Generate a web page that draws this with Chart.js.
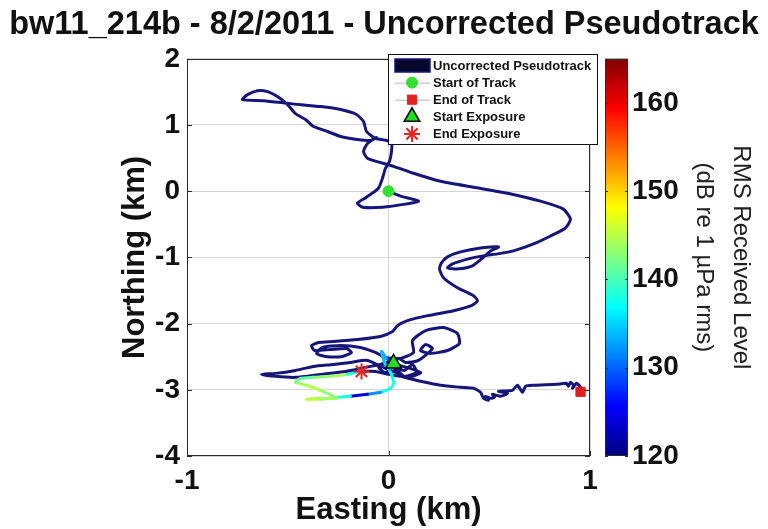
<!DOCTYPE html>
<html><head><meta charset="utf-8">
<script src="https://cdn.jsdelivr.net/npm/chart.js@4.4.1/dist/chart.umd.min.js"></script>
<style>html,body{margin:0;padding:0;background:#fff;}#wrap{width:768px;height:529px;position:relative;}</style>
</head><body><div id="wrap"><canvas id="c" width="768" height="529"></canvas></div>
<script>
// ---------- data (km, dB) ----------
const chartTitle = 'bw11_214b - 8/2/2011 - Uncorrected Pseudotrack';
const xTicks = [-1, 0, 1];
const yTicks = [-4, -3, -2, -1, 0, 1, 2];
const levelTicks = [120, 130, 140, 150, 160];
const levelMin = 120, levelMax = 165;

// track before exposure
const preEasting = [0.000,0.060,0.149,0.084,-0.030,-0.129,-0.154,-0.109,-0.050,-0.030,-0.015,0.005,0.015,0.015,-0.010,-0.065,
 -0.109,-0.124,-0.159,-0.238,-0.337,-0.486,-0.620,-0.725,-0.700,-0.650,-0.600,-0.551,-0.501,-0.462,-0.412,-0.372,-0.303,-0.238,-0.154,-0.089,-0.060,
 -0.104,-0.124,-0.104,0.025,0.124,0.258,0.422,0.591,0.754,0.868,0.903,0.878,0.804,0.720,0.620,0.541,0.471,0.397,0.318,0.293,0.347,0.417,0.462,0.506,0.546,
 0.457,0.357,0.293,0.263,0.253,0.273,0.342,0.422,0.442,0.412,0.323,0.194,0.094,0.045,0.020,-0.040,-0.154,-0.273,-0.347,
 -0.382,-0.367,-0.288,-0.208,-0.184,-0.228,-0.313,-0.357,-0.328,-0.238,-0.139,-0.065,-0.015,
 0.060,0.124,0.119,0.184,0.273,0.342,0.352,0.293,0.208,0.159,0.184,0.218,0.149,
 0.084,0.050,0.020,0.079,0.119,0.139,0.079,0.040,-0.020,-0.050,-0.010,
 0.159,0.099,0.035,-0.015,
 -0.104,-0.189,-0.273,-0.372,-0.462,-0.561,-0.630,-0.561,-0.462,-0.337,-0.213,-0.114,-0.040,0.025];
const preNorthing = [0.000,-0.075,-0.150,-0.195,-0.241,-0.241,-0.180,-0.090,0.045,0.195,0.346,0.451,0.602,0.737,0.767,0.797,
 0.902,1.053,1.158,1.233,1.278,1.323,1.368,1.383,1.459,1.519,1.504,1.429,1.308,1.173,1.083,0.977,0.902,0.827,0.782,0.767,0.812,
 0.722,0.602,0.496,0.376,0.271,0.150,0.060,-0.030,-0.150,-0.271,-0.421,-0.556,-0.677,-0.797,-0.902,-0.947,-0.977,-1.023,-1.098,-1.158,-1.173,-1.128,-1.023,-0.902,-0.842,
 -0.857,-0.917,-0.992,-1.083,-1.173,-1.308,-1.459,-1.579,-1.654,-1.729,-1.805,-1.880,-1.955,-2.030,-2.120,-2.195,-2.241,-2.271,-2.286,
 -2.331,-2.406,-2.391,-2.376,-2.436,-2.496,-2.496,-2.451,-2.361,-2.331,-2.361,-2.436,-2.511,
 -2.526,-2.436,-2.256,-2.105,-2.060,-2.150,-2.301,-2.406,-2.451,-2.406,-2.316,-2.376,-2.556,
 -2.586,-2.526,-2.647,-2.707,-2.617,-2.737,-2.797,-2.707,-2.737,-2.647,-2.586,
 -2.737,-2.812,-2.737,-2.677,
 -2.556,-2.586,-2.617,-2.647,-2.707,-2.752,-2.767,-2.797,-2.812,-2.767,-2.722,-2.662,-2.617,-2.602];

// exposure section, with RMS received level (dB re 1 uPa rms)
const exposureEasting  = [0.025,-0.010,-0.035,-0.020,0.010,0.025,0.010,-0.040,-0.104,-0.189,-0.253,-0.337,-0.407,-0.337,-0.258,-0.337,-0.407,-0.462,-0.437,-0.372,-0.288,-0.203,-0.134];
const exposureNorthing = [-2.602,-2.526,-2.421,-2.587,-2.737,-2.902,-2.977,-3.038,-3.068,-3.098,-3.113,-3.143,-3.143,-3.128,-3.128,-3.008,-2.932,-2.887,-2.827,-2.812,-2.797,-2.767,-2.722];
const exposureLevel    = [128,133,134,135,137,139,138,132,124,138,141,146,145,144,143,145,144,142,141,143,144,138,135];

// track after exposure
const postEasting  = [-0.134,-0.065,0.000,0.060,0.159,0.258,0.357,0.422,0.457,0.471,0.496,0.481,0.506,0.526,0.516,0.556,0.591,0.546,0.615,0.640,0.665,0.680,0.720,0.834,0.883,0.893,0.903,0.918,0.913,0.933,0.953,0.953];
const postNorthing = [-2.722,-2.722,-2.767,-2.797,-2.872,-2.932,-2.962,-2.977,-3.038,-3.128,-3.158,-3.098,-3.128,-3.113,-3.068,-3.098,-3.053,-3.023,-3.008,-2.932,-3.038,-2.947,-2.932,-2.917,-2.902,-2.947,-2.887,-2.932,-2.977,-2.902,-2.962,-3.038];

const startOfTrack = [0.000, 0.000];
const endOfTrack = [0.953, -3.03];
const startExposure = [0.025, -2.602];
const endExposure = [-0.134, -2.722];

// ---------- helpers ----------
const FONT = '"Liberation Sans", Arial, Helvetica, sans-serif';
Chart.defaults.font.family = FONT;
const jet = v => {
  const t = Math.min(1, Math.max(0, (v - levelMin) / (levelMax - levelMin)));
  const c = k => Math.round(255 * Math.min(1, Math.max(0, 1.5 - Math.abs(4 * t - k))));
  return `rgb(${c(3)},${c(2)},${c(1)})`;
};
const toXY = (xs, ys) => xs.map((x, i) => ({x, y: ys[i]}));
const trackColor = '#16167a';
const lineBase = {showLine: true, pointRadius: 0, borderWidth: 3, tension: 0.2, borderJoinStyle: 'round', borderCapStyle: 'round', fill: false};

const axesBox = {
  id: 'axesBox',
  afterDatasetsDraw(chart) {
    const {ctx, chartArea: a, scales} = chart;
    ctx.save();
    ctx.strokeStyle = '#2a2a2a'; ctx.lineWidth = 1;
    ctx.strokeRect(Math.round(a.left) + 0.5, Math.round(a.top) + 0.5, Math.round(a.right - a.left) - 1, Math.round(a.bottom - a.top) - 1);
    ctx.beginPath();
    scales.x.ticks.forEach(t => {
      const p = Math.round(scales.x.getPixelForValue(t.value)) + 0.5;
      ctx.moveTo(p, a.bottom); ctx.lineTo(p, a.bottom - 5);
      ctx.moveTo(p, a.top); ctx.lineTo(p, a.top + 5);
    });
    scales.y.ticks.forEach(t => {
      const p = Math.round(scales.y.getPixelForValue(t.value)) + 0.5;
      ctx.moveTo(a.left, p); ctx.lineTo(a.left + 5, p);
      ctx.moveTo(a.right, p); ctx.lineTo(a.right - 5, p);
    });
    ctx.stroke();
    ctx.restore();
  }
};

const colorbar = {
  id: 'colorbar',
  afterDraw(chart) {
    const {ctx} = chart; const s = chart.scales.y2;
    const x0 = s.left + 15, w = 23;
    const top = s.getPixelForValue(levelMax), bot = s.getPixelForValue(levelMin);
    const g = ctx.createLinearGradient(0, bot, 0, top);
    for (let i = 0; i <= 40; i++) g.addColorStop(i / 40, jet(levelMin + (levelMax - levelMin) * i / 40));
    ctx.save();
    ctx.fillStyle = g; ctx.fillRect(x0, top, w, bot - top);
    ctx.strokeStyle = '#2a2a2a'; ctx.lineWidth = 1;
    ctx.strokeRect(x0 + 0.5, top + 0.5, w - 1, bot - top - 1);
    ctx.beginPath();
    s.ticks.forEach(t => {
      const p = Math.round(s.getPixelForValue(t.value)) + 0.5;
      ctx.moveTo(x0, p); ctx.lineTo(x0 + 3, p);
      ctx.moveTo(x0 + w, p); ctx.lineTo(x0 + w - 3, p);
    });
    ctx.stroke();
    ctx.restore();
  }
};

const legendOrder = ['Uncorrected Pseudotrack', 'Start of Track', 'End of Track', 'Start Exposure', 'End Exposure'];
const legendBox = {
  id: 'legendBox',
  afterDraw(chart) {
    const {ctx, chartArea: a} = chart;
    const L = Math.round(a.right) - 202, T = Math.round(a.top) - 5, W = 210, H = 91;
    ctx.save();
    ctx.fillStyle = '#fff'; ctx.fillRect(L, T, W, H);
    ctx.strokeStyle = '#111'; ctx.lineWidth = 1; ctx.strokeRect(L + 0.5, T + 0.5, W - 1, H - 1);
    legendOrder.forEach((name, i) => {
      const ds = chart.data.datasets.find(d => d.label === name);
      const y = T + 11.5 + i * 17.1;
      const mx = L + 24;
      if (i === 0) {
        ctx.fillStyle = '#07072e'; ctx.fillRect(L + 7, y - 6.5, 35, 13);
        ctx.strokeStyle = ds.borderColor; ctx.lineWidth = 1.5; ctx.strokeRect(L + 7, y - 6.5, 35, 13);
      } else {
        if (i === 1 || i === 2) {
          ctx.strokeStyle = '#b8b8c8'; ctx.lineWidth = 1;
          ctx.beginPath(); ctx.moveTo(L + 7, y + 0.5); ctx.lineTo(L + 42, y + 0.5); ctx.stroke();
        }
        ctx.fillStyle = ds.backgroundColor || 'transparent';
        ctx.strokeStyle = ds.borderColor; ctx.lineWidth = ds.borderWidth;
        Chart.helpers.drawPoint(ctx, {pointStyle: ds.pointStyle, radius: ds.pointRadius, rotation: 0, borderWidth: ds.borderWidth}, mx, y);
      }
      ctx.fillStyle = '#111'; ctx.font = 'bold 13px ' + FONT;
      ctx.textAlign = 'left'; ctx.textBaseline = 'middle';
      ctx.fillText(name, L + 45, y + 0.5);
    });
    ctx.restore();
  }
};

const tickFont = {family: FONT, size: 28, weight: 'bold'};

new Chart(document.getElementById('c'), {
  type: 'scatter',
  data: {
    datasets: [
      {label: 'Start Exposure', data: [{x: startExposure[0], y: startExposure[1]}], pointStyle: 'triangle', pointRadius: 9, backgroundColor: '#22dd22', borderColor: '#000', borderWidth: 1.5},
      {label: 'End Exposure', data: [{x: endExposure[0], y: endExposure[1]}], pointStyle: 'star', pointRadius: 8, backgroundColor: '#ee2222', borderColor: '#ee2222', borderWidth: 2},
      {label: 'Start of Track', data: [{x: startOfTrack[0], y: startOfTrack[1]}], pointStyle: 'circle', pointRadius: 5.5, backgroundColor: '#33e033', borderColor: '#33e033', borderWidth: 1},
      {label: 'End of Track', data: [{x: endOfTrack[0], y: endOfTrack[1]}], pointStyle: 'rect', pointRadius: 6.5, backgroundColor: '#e02020', borderColor: '#e02020', borderWidth: 1},
      Object.assign({label: 'Exposure', data: toXY(exposureEasting, exposureNorthing), borderColor: jet(135),
        segment: {borderColor: c => jet(exposureLevel[c.p0DataIndex])}}, lineBase),
      Object.assign({label: 'Uncorrected Pseudotrack', data: toXY(preEasting, preNorthing), borderColor: trackColor}, lineBase),
      Object.assign({label: 'Post', data: toXY(postEasting, postNorthing), borderColor: trackColor}, lineBase)
    ]
  },
  options: {
    responsive: false, animation: false, events: [],
    devicePixelRatio: 1,
    layout: {padding: 0},
    plugins: {
      legend: {display: false}, tooltip: {enabled: false},
      title: {display: true, text: chartTitle, color: '#111', font: {family: FONT, size: 32.5, weight: 'bold'}, padding: {top: 4, bottom: 14}}
    },
    scales: {
      x: {
        type: 'linear', position: 'bottom', min: -1, max: 1,
        afterBuildTicks: s => { s.ticks = xTicks.map(value => ({value})); },
        afterFit: s => { s.height = 73; },
        grid: {color: '#d6d6d6', lineWidth: 1, drawTicks: false},
        border: {display: false},
        ticks: {font: tickFont, color: '#111', padding: 8, maxRotation: 0, autoSkip: false, callback: v => String(v)},
        title: {display: true, text: 'Easting (km)', color: '#111', font: {family: FONT, size: 31, weight: 'bold'}, padding: {top: 0, bottom: 0}}
      },
      y: {
        type: 'linear', position: 'left', min: -4, max: 2,
        afterBuildTicks: s => { s.ticks = yTicks.map(value => ({value})); },
        afterFit: s => { s.width = 187; },
        grid: {color: '#d6d6d6', lineWidth: 1, drawTicks: false},
        border: {display: false},
        ticks: {font: tickFont, color: '#111', padding: 7, autoSkip: false, callback: v => String(v)},
        title: {display: true, text: 'Northing (km)', color: '#111', font: {family: FONT, size: 31, weight: 'bold'}, padding: {top: 117, bottom: 0}}
      },
      y2: {
        type: 'linear', position: 'right', min: levelMin, max: levelMax,
        afterBuildTicks: s => { s.ticks = levelTicks.map(value => ({value})); },
        afterFit: s => { s.width = 178; },
        grid: {display: false, drawTicks: false},
        border: {display: false},
        ticks: {font: tickFont, color: '#111', padding: 42, autoSkip: false, callback: v => String(v)},
        title: {display: true, text: ['RMS Received Level', '(dB re 1 µPa rms)'], color: '#222', font: {family: FONT, size: 24, lineHeight: 1.55}, padding: {top: 9, bottom: 0}}
      }
    }
  },
  plugins: [axesBox, colorbar, legendBox]
});
</script>
</body></html>
